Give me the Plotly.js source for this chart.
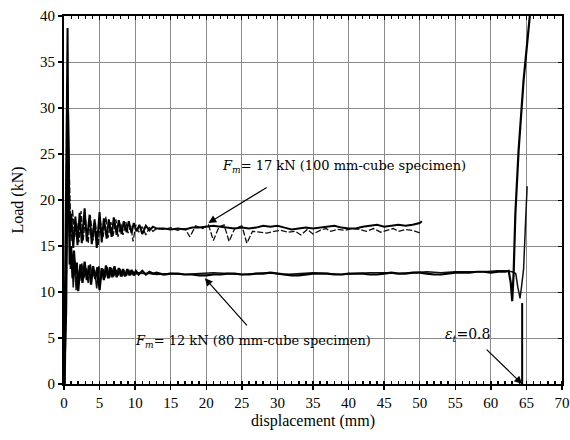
<!DOCTYPE html>
<html>
<head>
<meta charset="utf-8">
<script src="https://cdn.plot.ly/plotly-3.0.1.min.js"></script>
<style>html,body{margin:0;padding:0;background:#fff;}#chart{width:570px;height:440px;}</style>
</head>
<body>
<div id="chart"></div>
<script>
// 100 mm-cube specimen, test A (solid)
const x100a = [0,0.2,0.4,0.5,0.6,0.8,1.0,1.3,1.6,1.9,2.2,2.5,2.9,3.2,3.6,3.9,4.3,4.6,5.0,5.3,5.6,6.0,6.3,6.7,7.0,7.4,7.7,8.1,8.4,8.8,9.1,9.5,9.8,10.2,10.6,11,11.5,12,12.5,13,14,15,16,17,18,19,20,21,22,23,24,25,26,27,28,29,30,31,32,33,34,35,36,37,38,39,40,41,42,43,44,45,46,47,48,49,50,50.3];
const y100a = [0,12,30,38.7,26,16,18.5,14.8,18.2,15.1,18.6,15.3,19.1,15.5,18.4,15.2,17.9,14.8,18.7,15.4,18.0,15.8,17.9,16.0,18.1,16.2,17.8,16.3,17.7,16.5,17.7,16.4,17.5,16.6,17.3,16.3,17.2,16.7,17.1,16.9,16.9,16.8,16.9,16.8,17.0,17.0,17.1,17.2,17.1,17.0,16.9,17.0,16.9,17.0,17.2,17.1,17.2,17.0,16.8,16.9,17.0,16.9,17.0,17.1,17.2,17.0,16.9,16.9,17.1,17.2,17.3,17.1,17.2,17.3,17.2,17.3,17.5,17.7];
// 100 mm-cube specimen, test B (dashed)
const x100b = [0.1,0.45,1.0,1.2,1.5,1.8,2.1,2.4,2.7,3.0,3.4,3.7,4.1,4.4,4.8,5.1,5.5,5.9,6.2,6.6,6.9,7.3,7.6,8.0,8.3,8.7,9.0,9.4,9.7,10.1,10.5,11,11.5,12,12.5,13,14,15,16,17,17.7,18.5,19.5,20.3,21,21.8,22.5,23.2,24,25,25.7,26.5,27.5,28.5,29.5,30.5,31.5,32.5,33.3,34.2,35,36,36.8,37.5,38.5,39.5,40.5,41.5,42.5,43.5,44.5,45.5,46.3,47,48,49,50.1];
const y100b = [0,32,15.5,19,16,17.5,15.4,18.8,15.6,18.0,15.3,18.3,15.6,17.6,15.0,17.8,16.0,18.2,15.9,17.6,16.1,17.9,16.0,17.4,16.2,17.6,16.4,17.2,15.5,17.3,16.5,17.1,16.2,17.0,16.6,16.9,16.8,17.0,16.7,16.9,16.0,17.2,16.9,17.3,15.6,17.1,17.3,15.5,16.9,17.2,15.3,16.6,16.5,16.4,16.6,16.7,16.5,16.6,16.2,16.8,16.3,16.7,16.9,16.6,16.8,16.7,16.9,16.8,16.6,16.9,16.5,16.7,16.9,16.6,16.8,16.7,16.4];
// 80 mm-cube specimen, test A
const x80a = [0,0.3,0.55,0.65,0.8,1.0,1.2,1.4,1.6,1.8,2.0,2.3,2.6,2.9,3.2,3.5,3.8,4.1,4.4,4.7,5.0,5.3,5.6,5.9,6.2,6.5,6.8,7.1,7.4,7.7,8.0,8.3,8.6,8.9,9.2,9.5,9.8,10.1,10.5,11,11.5,12,12.5,13,14,15,16,17,18,19,20,21,22,23,24,25,26,27,28,29,30,31,32,33,34,35,36,37,38,39,40,41,42,43,44,45,46,47,48,49,50,51,52,53,54,55,56,57,58,59,60,61,62,62.5,62.8,63.0,63.2,63.45,63.9,64.6,65.6];
const y80a = [0,8,29.5,20,13,15,11.5,14.5,12,13.2,10.1,13.0,11.0,13.3,11.3,12.9,10.8,12.8,11.4,12.7,10.2,12.6,11.3,12.9,11.5,12.7,11.6,12.8,11.6,12.6,11.7,12.5,11.7,12.5,11.8,12.4,11.8,12.3,11.9,12.3,11.9,12.2,12.0,12.1,11.9,12.0,12.0,11.9,11.9,11.8,11.8,11.9,11.9,12.0,12.0,11.9,11.9,12.0,12.0,12.1,12.0,11.9,11.8,11.8,11.9,12.0,12.0,12.0,11.9,11.9,12.0,12.0,12.0,11.9,11.9,12.0,12.1,12.0,12.0,12.1,12.1,12.0,11.9,11.9,12.0,12.1,12.1,12.1,12.2,12.2,12.1,12.2,12.2,12.3,11.0,9.0,12.0,18.6,25.4,33,41];
// 80 mm-cube specimen, test B
const x80b = [0.15,0.5,0.6,0.75,0.9,1.1,1.3,1.5,1.7,1.9,2.2,2.5,2.8,3.1,3.4,3.7,4.0,4.3,4.6,4.9,5.2,5.5,5.8,6.1,6.4,6.7,7.0,7.3,7.6,7.9,8.2,8.5,8.8,9.1,9.4,9.7,10,10.5,11,12,13,15,17,19,21,23,25,27,29,31,33,35,37,39,41,43,45,47,49,51,53,55,57,59,61,62,63,63.5,63.8,64.1,64.3,64.6,64.9,65.1];
const y80b = [0,25,30,18,12.5,14,10.5,13.5,10.2,12.4,11.2,13.1,11.5,12.6,11.0,13.0,11.6,12.4,10.4,12.8,11.4,12.5,11.6,12.7,11.5,12.6,11.7,12.4,11.8,12.5,11.7,12.3,11.8,12.4,11.9,12.2,11.9,12.1,12.0,12.0,11.9,12.0,11.9,12.0,12.1,12.0,11.9,12.0,12.1,11.9,12.0,12.1,12.0,11.9,12.0,12.1,12.1,12.0,12.1,12.2,12.1,12.2,12.2,12.2,12.3,12.3,12.2,12.0,10.5,9.3,10.5,12.5,18,21.5];
// strain marker eps_t = 0.8
const xMark = [64.4, 64.4];
const yMark = [0, 8.8];
const xTicks = [0,5,10,15,20,25,30,35,40,45,50,55,60,65,70];
const yTicks = [0,5,10,15,20,25,30,35,40];

const serif = '"Liberation Serif", "Times New Roman", serif';
const serifWide = '"DejaVu Serif", serif';
const traces = [
  {x:x100b, y:y100b, mode:'lines', line:{color:'#111', width:1.3, dash:'6px,2px'}, hoverinfo:'skip'},
  {x:x100a, y:y100a, mode:'lines', line:{color:'#000', width:2}, hoverinfo:'skip'},
  {x:x80b, y:y80b, mode:'lines', line:{color:'#111', width:1.5}, hoverinfo:'skip'},
  {x:x80a, y:y80a, mode:'lines', line:{color:'#000', width:2.2}, hoverinfo:'skip'},
  {x:xMark, y:yMark, mode:'lines', line:{color:'#000', width:2}, hoverinfo:'skip'},
  {x:[0,70], y:[0,40], xaxis:'x2', yaxis:'y2', mode:'none', hoverinfo:'skip'}
];

const layout = {
  width:570, height:440,
  margin:{l:64, r:8, t:16, b:56},
  paper_bgcolor:'#fff', plot_bgcolor:'#fff',
  showlegend:false,
  font:{family:serif, size:14, color:'#000'},
  xaxis:{
    range:[0,70], tickvals:xTicks, ticks:'outside', ticklen:4, tickwidth:1.5, tickcolor:'#000',
    showgrid:true, gridcolor:'#8a8a8a', gridwidth:1,
    showline:true, linecolor:'#000', linewidth:2, zeroline:false,
    minor:{dtick:1, tick0:0, ticks:'inside', ticklen:3, tickcolor:'#000', showgrid:false},
    tickfont:{family:serif, size:15, color:'#000'},
    title:{text:'displacement (mm)', font:{family:serif, size:16, color:'#000'}, standoff:5}
  },
  yaxis:{
    range:[0,40], tickvals:yTicks, ticks:'outside', ticklen:4, tickwidth:1.5, tickcolor:'#000',
    showgrid:true, gridcolor:'#8a8a8a', gridwidth:1,
    showline:true, linecolor:'#000', linewidth:2, zeroline:false,
    tickfont:{family:serif, size:15, color:'#000'},
    title:{text:'Load (kN)', font:{family:serif, size:16, color:'#000'}, standoff:12}
  },
  xaxis2:{
    overlaying:'x', side:'top', range:[0,70], showticklabels:false, tickvals:xTicks, ticks:'inside', ticklen:4,
    showline:true, linecolor:'#000', linewidth:2, showgrid:false, zeroline:false, tickcolor:'#000',
    minor:{dtick:1, tick0:0, ticks:'inside', ticklen:3, tickcolor:'#000', showgrid:false}
  },
  yaxis2:{
    overlaying:'y', side:'right', range:[0,40], showticklabels:false, tickvals:yTicks, ticks:'inside', ticklen:4,
    showline:true, linecolor:'#000', linewidth:2, showgrid:false, zeroline:false, tickcolor:'#000'
  },
  annotations:[
    {x:39.4, y:23.6, xref:'x', yref:'y', showarrow:false,
     text:'<i>F<sub>m</sub></i>= 17 kN (100 mm-cube specimen)', font:{family:serifWide, size:13, color:'#000'}},
    {x:20.3, y:17.5, ax:28.7, ay:21.45, xref:'x', yref:'y', axref:'x', ayref:'y', text:'',
     showarrow:true, arrowhead:2, arrowsize:1.3, arrowwidth:1.2, arrowcolor:'#000'},
    {x:26.6, y:4.6, xref:'x', yref:'y', showarrow:false,
     text:'<i>F<sub>m</sub></i>= 12 kN (80 mm-cube specimen)', font:{family:serifWide, size:13, color:'#000'}},
    {x:19.8, y:11.5, ax:25.9, ay:6.2, xref:'x', yref:'y', axref:'x', ayref:'y', text:'',
     showarrow:true, arrowhead:2, arrowsize:1.3, arrowwidth:1.2, arrowcolor:'#000'},
    {x:56.7, y:5.3, xref:'x', yref:'y', showarrow:false,
     text:'<i>ε<sub>t</sub></i>=0.8', font:{family:serifWide, size:14, color:'#000'}},
    {x:64.4, y:0, ax:59.2, ay:3.9, xref:'x', yref:'y', axref:'x', ayref:'y', text:'',
     showarrow:true, arrowhead:2, arrowsize:1.3, arrowwidth:1.2, arrowcolor:'#000'}
  ]
};

Plotly.newPlot('chart', traces, layout, {staticPlot:true, displayModeBar:false});
</script>
</body>
</html>
